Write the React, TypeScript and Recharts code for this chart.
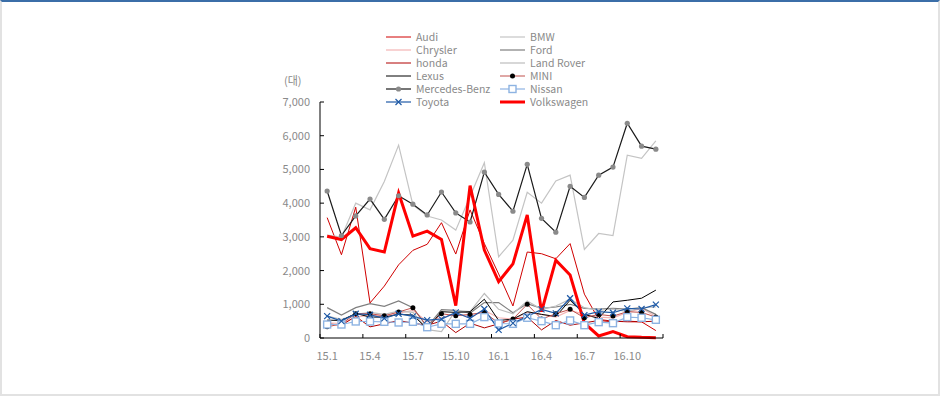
import React from 'react'
import { LineChart, Line, XAxis, YAxis } from 'recharts'

const months = [
  '15.1', '15.2', '15.3', '15.4', '15.5', '15.6', '15.7', '15.8', '15.9', '15.10', '15.11', '15.12',
  '16.1', '16.2', '16.3', '16.4', '16.5', '16.6', '16.7', '16.8', '16.9', '16.10', '16.11', '16.12',
]
const yTicks = [0, 1000, 2000, 3000, 4000, 5000, 6000, 7000]

const audi       = [3570, 2470, 3880, 1040, 1540, 2170, 2600, 2780, 3420, 2490, 3800, 2800, 1900, 950, 2550, 2500, 2350, 2800, 1300, 550, 500, 480, 480, 220]
const bmw        = [3050, 2990, 4000, 3800, 4640, 5720, 3950, 3620, 3500, 3200, 4200, 5200, 2410, 2900, 4320, 4000, 4660, 4830, 2630, 3100, 3040, 5420, 5330, 5850]
const chrysler   = [450, 430, 620, 680, 640, 740, 820, 480, 600, 720, 620, 820, 600, 560, 760, 700, 620, 820, 700, 620, 600, 760, 880, 640]
const ford       = [900, 680, 900, 1020, 940, 1100, 900, 330, 840, 820, 740, 1050, 1050, 750, 1020, 880, 920, 1000, 880, 860, 880, 860, 900, 700]
const honda      = [420, 380, 640, 330, 420, 520, 440, 380, 500, 160, 440, 300, 420, 560, 620, 240, 520, 380, 450, 520, 480, 500, 480, 500]
const landRover  = [650, 550, 700, 760, 700, 800, 760, 250, 190, 820, 780, 1320, 850, 720, 1100, 850, 950, 1150, 900, 820, 860, 780, 900, 920]
const lexus      = [530, 520, 730, 620, 620, 700, 680, 280, 780, 760, 780, 1150, 520, 560, 780, 700, 640, 1120, 700, 580, 1070, 1120, 1180, 1420]
const mini       = [330, 420, 720, 720, 660, 770, 900, 330, 720, 660, 700, 760, 440, 560, 1000, 560, 720, 850, 600, 700, 650, 780, 760, 620]
const mercedes   = [4360, 3040, 3620, 4120, 3520, 4220, 3970, 3650, 4330, 3710, 3440, 4920, 4260, 3760, 5150, 3550, 3140, 4500, 4170, 4830, 5070, 6370, 5690, 5600]
const nissan     = [400, 400, 490, 490, 480, 460, 480, 320, 420, 420, 420, 620, 430, 420, 600, 500, 380, 520, 380, 470, 440, 620, 600, 540]
const toyota     = [650, 500, 720, 690, 580, 720, 640, 530, 560, 760, 580, 860, 240, 440, 640, 850, 730, 1180, 680, 780, 750, 880, 860, 990]
const volkswagen = [3020, 2920, 3270, 2650, 2550, 4300, 3020, 3170, 2920, 960, 4520, 2610, 1670, 2200, 3650, 780, 2310, 1870, 440, 60, 190, 40, 20, 10]

const FONT = '"Noto Sans CJK KR", "Noto Sans", sans-serif'
const TXT = '#8a8a8a'
const W = 940
const H = 396
const PLOT_W = 343
const BW = PLOT_W / months.length
const TICK_MARGIN = 10

type Marker = 'none' | 'dot' | 'mdot' | 'square' | 'cross'
interface Series { key: string; name: string; values: number[]; color: string; width: number; marker: Marker }

const series: Series[] = [
  { key: 'audi', name: 'Audi', values: audi, color: '#d00000', width: 1, marker: 'none' },
  { key: 'bmw', name: 'BMW', values: bmw, color: '#c4c4c4', width: 1.2, marker: 'none' },
  { key: 'chrysler', name: 'Chrysler', values: chrysler, color: '#f4b4b4', width: 1.2, marker: 'none' },
  { key: 'ford', name: 'Ford', values: ford, color: '#7f7f7f', width: 1.2, marker: 'none' },
  { key: 'honda', name: 'honda', values: honda, color: '#b00000', width: 1, marker: 'none' },
  { key: 'landRover', name: 'Land Rover', values: landRover, color: '#bdbdbd', width: 1.2, marker: 'none' },
  { key: 'lexus', name: 'Lexus', values: lexus, color: '#000000', width: 1, marker: 'none' },
  { key: 'mini', name: 'MINI', values: mini, color: '#c0504d', width: 1, marker: 'dot' },
  { key: 'mercedes', name: 'Mercedes-Benz', values: mercedes, color: '#1a1a1a', width: 1.2, marker: 'mdot' },
  { key: 'nissan', name: 'Nissan', values: nissan, color: '#8db3e2', width: 1.2, marker: 'square' },
  { key: 'toyota', name: 'Toyota', values: toyota, color: '#1f5aa6', width: 1.2, marker: 'cross' },
  { key: 'volkswagen', name: 'Volkswagen', values: volkswagen, color: '#ff0000', width: 3, marker: 'none' },
]

const data = months.map((m, i) => {
  const row: Record<string, any> = { month: m }
  series.forEach(s => { row[s.key] = s.values[i] })
  return row
})

const drawMarker = (marker: Marker, color: string, cx: number, cy: number, key?: string) => {
  if (marker === 'dot') return <circle key={key} cx={cx} cy={cy} r={2.5} fill="#000" />
  if (marker === 'mdot') return <circle key={key} cx={cx} cy={cy} r={2.6} fill="#8a8a8a" />
  if (marker === 'square') return <rect key={key} x={cx - 3.5} y={cy - 3.5} width={7} height={7} fill="#fff" stroke={color} strokeWidth={1.4} />
  if (marker === 'cross') return (
    <path key={key} d={`M${cx - 3},${cy - 3}L${cx + 3},${cy + 3}M${cx + 3},${cy - 3}L${cx - 3},${cy + 3}`} stroke={color} strokeWidth={1.2} />
  )
  return <g key={key} />
}

const dotFor = (s: Series) => {
  if (s.marker === 'none') return false
  return (p: any) => {
    if (p.cx == null || p.cy == null) return <g key={`${s.key}-${p.index}`} />
    return drawMarker(s.marker, s.color, p.cx, p.cy, `${s.key}-${p.index}`)
  }
}

const YTick = ({ x, y, payload }: any) => (
  <g>
    <line x1={x + TICK_MARGIN} x2={x + TICK_MARGIN + 4} y1={y} y2={y} stroke="#000" />
    <text x={x} y={y} dy={4} textAnchor="end" fill={TXT} fontSize={11} fontFamily={FONT}>
      {Number(payload.value).toLocaleString('en-US')}
    </text>
  </g>
)

const XTick = ({ x, y, payload }: any) => {
  const axisY = y - TICK_MARGIN
  const bx = x - BW / 2
  return (
    <g>
      <line x1={bx} x2={bx} y1={axisY} y2={axisY - 4} stroke="#000" />
      {payload.index === 21 && <line x1={bx + 3 * BW} x2={bx + 3 * BW} y1={axisY} y2={axisY - 4} stroke="#000" />}
      <text x={x} y={y} dy={12} textAnchor="middle" fill={TXT} fontSize={11} fontFamily={FONT}>
        {payload.value}
      </text>
    </g>
  )
}

const LegendBox = () => (
  <svg width={W} height={112} style={{ position: 'absolute', left: 0, top: 0, display: 'block' }}>
    {series.map((s, i) => {
      const col = i % 2
      const row = Math.floor(i / 2)
      const x0 = col === 0 ? 386 : 500
      const y0 = 37 + row * 13
      return (
        <g key={s.key}>
          <line x1={x0} x2={x0 + 25} y1={y0} y2={y0} stroke={s.color} strokeWidth={s.width} />
          {drawMarker(s.marker, s.color, x0 + 12.5, y0)}
          <text x={x0 + 30} y={y0} dy={4} fill={TXT} fontSize={10.5} fontFamily={FONT}>{s.name}</text>
        </g>
      )
    })}
  </svg>
)

export default function App() {
  return (
    <div style={{ position: 'absolute', left: 0, top: 0, width: W, height: H, background: '#fff' }}>
      <div
        style={{
          position: 'absolute', left: 0, top: 0, width: W, height: H, boxSizing: 'border-box',
          borderLeft: '2px solid #e2e2e2', borderRight: '2px solid #e2e2e2', borderBottom: '2px solid #e2e2e2',
          borderTop: '2px solid #3b6ea8',
        }}
      />
      <div style={{ position: 'absolute', left: 0, top: 0 }}>
        <LineChart width={W} height={H} data={data} margin={{ top: 102, right: 277, left: 260, bottom: 28 }}>
          <XAxis
            dataKey="month"
            interval={2}
            padding={{ left: BW / 2, right: BW / 2 }}
            axisLine={{ stroke: '#000' }}
            tickLine={false}
            tickSize={0}
            tickMargin={TICK_MARGIN}
            height={30}
            tick={<XTick />}
          />
          <YAxis
            domain={[0, 7000]}
            ticks={yTicks}
            interval={0}
            width={60}
            axisLine={{ stroke: '#000' }}
            tickLine={false}
            tickSize={0}
            tickMargin={TICK_MARGIN}
            tick={<YTick />}
          />
          {series.map(s => (
            <Line
              key={s.key}
              dataKey={s.key}
              name={s.name}
              type="linear"
              stroke={s.color}
              strokeWidth={s.width}
              dot={dotFor(s)}
              activeDot={false}
              isAnimationActive={false}
            />
          ))}
        </LineChart>
      </div>
      <LegendBox />
      <div style={{ position: 'absolute', left: 284, top: 72, fontFamily: FONT, fontSize: 11, color: TXT }}>(대)</div>
    </div>
  )
}
